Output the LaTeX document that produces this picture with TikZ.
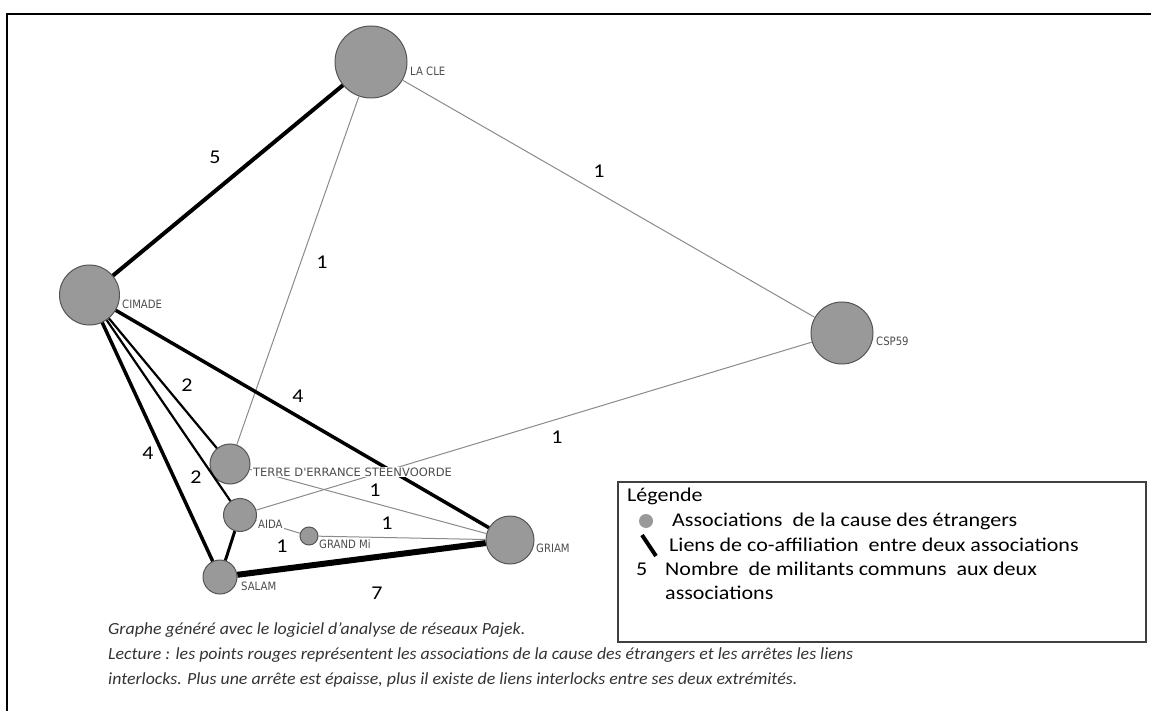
\documentclass[tikz,border=0pt]{standalone}
\usepackage{fontspec}
\setmainfont{Carlito}
\newfontfamily\legfont[FakeStretch=1.13]{Carlito}
\newfontfamily\capfont[FakeStretch=1.05]{Carlito}
\newfontfamily\labfont[FakeStretch=0.88]{DejaVu Sans}
\newfontfamily\labfontwide{DejaVu Sans}
\definecolor{nodefill}{HTML}{999999}
\definecolor{nodeline}{HTML}{555555}
\definecolor{thinline}{HTML}{8A8A8A}
\definecolor{labtext}{HTML}{4D4D4D}
\definecolor{legline}{HTML}{404040}
\definecolor{captext}{HTML}{333333}
\begin{document}
\begin{tikzpicture}[x=1pt,y=-1pt,
  vert/.style={circle,fill=nodefill,draw=nodeline,line width=1pt,inner sep=0pt},
  lab/.style={anchor=west,fill=white,inner sep=1pt,text=labtext,font=\labfont\fontsize{11.5}{12}\selectfont},
  labwide/.style={lab,font=\labfontwide\fontsize{11.5}{12}\selectfont},
  num/.style={font=\legfont\fontsize{19.5}{23}\selectfont,text=black,inner sep=0pt},
  wone/.style={draw=thinline,line width=1pt},
  wtwo/.style={draw=black,line width=2.2pt},
  wthree/.style={draw=black,line width=3pt},
  wfour/.style={draw=black,line width=3.5pt},
  wfive/.style={draw=black,line width=4pt},
  wseven/.style={draw=black,line width=6pt},
  legtext/.style={anchor=west,inner sep=0pt,font=\legfont\fontsize{19.5}{23}\selectfont,text=black},
  captxt/.style={anchor=west,inner sep=0pt,font=\capfont\itshape\fontsize{17}{20}\selectfont,text=captext}
]
\useasboundingbox (0,0) rectangle (1151,711);
% frame
\draw[line width=1.5pt] (7,711) -- (7,14) -- (1151,14);

% vertices
\node[vert,minimum size=72] (lacle) at (371,62) {};
\node[vert,minimum size=60] (cimade) at (89.5,295) {};
\node[vert,minimum size=62] (csp) at (842,333) {};
\node[vert,minimum size=40] (terre) at (230,464) {};
\node[vert,minimum size=33] (aida) at (240,515) {};
\node[vert,minimum size=18] (grandmi) at (309,536) {};
\node[vert,minimum size=34] (salam) at (220,577) {};
\node[vert,minimum size=48] (griam) at (510,540) {};

% edges
\draw[wfive] (lacle) -- (cimade);
\draw[wone] (lacle) -- (terre);
\draw[wone] (lacle) -- (csp);
\draw[wone] (csp) -- (aida);
\draw[wfour] (cimade) -- (griam);
\draw[wtwo] (cimade) -- (terre);
\draw[wtwo] (cimade) -- (aida);
\draw[wfour] (cimade) -- (salam);
\draw[wone] (terre) -- (griam);
\draw[wthree] (aida) -- (salam);
\draw[wone] (aida) -- (grandmi);
\draw[wone] (grandmi) -- (griam);
\draw[wseven] (salam) -- (griam);

% vertex labels
\node[lab] (llacle) at (409,71) {LA CLE};
\node[lab] (lcimade) at (121,304) {CIMADE};
\node[lab] (lcsp) at (875,341.5) {CSP59};
\node[labwide] (lterre) at (252,472) {TERRE D'ERRANCE STEENVOORDE};
\node[lab] (laida) at (257,524) {AIDA};
\node[lab] (lgrandmi) at (318,544) {GRAND Mi};
\node[lab] (lsalam) at (240,586) {SALAM};
\node[lab] (lgriam) at (535,548) {GRIAM};

% edge weights
\node[num] (n1) at (215,157) {5};
\node[num] (n2) at (599,171) {1};
\node[num] (n3) at (322,262) {1};
\node[num] (n4) at (187,385) {2};
\node[num] (n5) at (298,396) {4};
\node[num] (n6) at (557,437) {1};
\node[num] (n7) at (148,453) {4};
\node[num] (n8) at (196,477) {2};
\node[num] (n9) at (375,490) {1};
\node[num] (n10) at (387,523) {1};
\node[num] (n11) at (282,546) {1};
\node[num] (n12) at (377,593) {7};

% legend
\node[draw=legline,line width=1.5pt,minimum width=528,minimum height=160,anchor=north west,inner sep=0pt] (legend) at (617,481) {};
\node[legtext] (lt0) at (627,496) {Légende};
\fill[nodefill] (646,521) circle (7);
\node[legtext] (lt1) at (672,521) {Associations\ \ de la cause des étrangers};
\coordinate (ls1) at (642,535);
\coordinate (ls2) at (656,556);
\draw[line width=4pt] (ls1) -- (ls2);
\node[legtext] (lt2) at (669,545) {Liens de co-affiliation\ \ entre deux associations};
\node[legtext] (lt3) at (636,569) {5};
\node[legtext] (lt4) at (665,569) {Nombre\ \ de militants communs\ \ aux deux};
\node[legtext] (lt5) at (665,593) {associations};

% caption
\node[captxt] (c1) at (108,630) {Graphe généré avec le logiciel d’analyse de réseaux Pajek.};
\node[captxt] (c2) at (108,655) {Lecture : les points rouges représentent les associations de la cause des étrangers et les arrêtes les liens};
\node[captxt] (c3) at (108,680) {interlocks. Plus une arrête est épaisse, plus il existe de liens interlocks entre ses deux extrémités.};
\end{tikzpicture}
\end{document}
